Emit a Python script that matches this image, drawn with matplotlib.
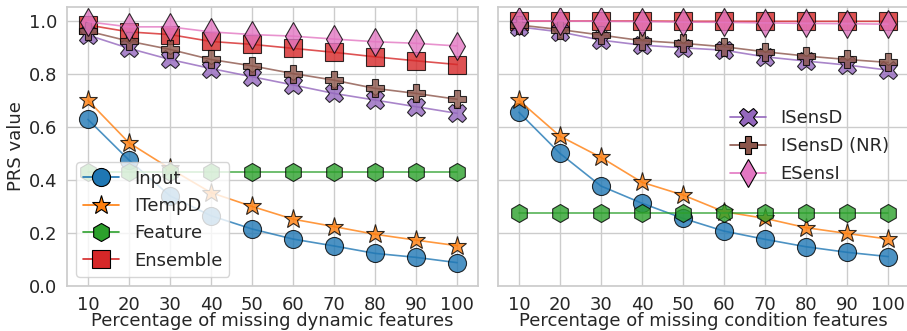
import matplotlib
matplotlib.use("Agg")
import matplotlib.pyplot as plt
import seaborn as sns

sns.set_theme(style="whitegrid")
plt.rcParams["font.family"] = ["DejaVu Sans"]
plt.rcParams["font.size"] = 13

pct = [10, 20, 30, 40, 50, 60, 70, 80, 90, 100]

# missing dynamic features (left panel)
dyn_input = [0.628, 0.475, 0.340, 0.265, 0.215, 0.177, 0.151, 0.123, 0.108, 0.088]
dyn_itempd = [0.700, 0.540, 0.443, 0.352, 0.300, 0.252, 0.224, 0.195, 0.173, 0.152]
dyn_feature = [0.431] * 10
dyn_ensemble = [0.984, 0.958, 0.948, 0.922, 0.911, 0.896, 0.881, 0.864, 0.849, 0.835]
dyn_isensd = [0.946, 0.896, 0.854, 0.820, 0.789, 0.758, 0.726, 0.701, 0.676, 0.651]
dyn_isensd_nr = [0.961, 0.923, 0.892, 0.854, 0.830, 0.801, 0.776, 0.745, 0.726, 0.704]
dyn_esensi = [0.996, 0.977, 0.977, 0.958, 0.948, 0.942, 0.931, 0.921, 0.915, 0.905]

# missing condition features (right panel)
cond_input = [0.655, 0.500, 0.377, 0.312, 0.255, 0.207, 0.176, 0.148, 0.127, 0.111]
cond_itempd = [0.700, 0.565, 0.485, 0.391, 0.343, 0.280, 0.255, 0.220, 0.198, 0.177]
cond_feature = [0.274] * 10
cond_ensemble = [0.999, 0.999, 0.999, 0.999, 0.998, 0.998, 0.998, 0.998, 0.998, 0.998]
cond_isensd = [0.977, 0.958, 0.927, 0.908, 0.898, 0.889, 0.864, 0.848, 0.833, 0.814]
cond_isensd_nr = [0.984, 0.967, 0.946, 0.925, 0.915, 0.902, 0.883, 0.867, 0.854, 0.843]
cond_esensi = [1.000, 0.999, 0.998, 0.997, 0.995, 0.994, 0.992, 0.990, 0.989, 0.987]

names = ["Input", "ITempD", "Feature", "Ensemble", "ISensD", "ISensD (NR)", "ESensI"]
markers = ["o", "*", "h", "s", "X", "P", "d"]
colors = ["tab:blue", "tab:orange", "tab:green", "tab:red",
          "tab:purple", "tab:brown", "tab:pink"]
sizes = [13, 14, 13, 13, 13, 13, 14]

dyn = [dyn_input, dyn_itempd, dyn_feature, dyn_ensemble,
       dyn_isensd, dyn_isensd_nr, dyn_esensi]
cond = [cond_input, cond_itempd, cond_feature, cond_ensemble,
        cond_isensd, cond_isensd_nr, cond_esensi]

fig = plt.figure(figsize=(9.07, 3.31), dpi=100)
ax1 = fig.add_axes([67 / 907, 1 - 286 / 331, 411 / 907, 279.3 / 331])
ax2 = fig.add_axes([498 / 907, 1 - 286 / 331, 411 / 907, 279.3 / 331], sharey=ax1)


def draw(ax, data):
    handles = []
    for vals, name, m, c, s in zip(data, names, markers, colors, sizes):
        h, = ax.plot(pct, vals, marker=m, color=c, label=name, markersize=s,
                     markeredgecolor="black", markeredgewidth=0.8,
                     linewidth=1.2, alpha=0.8)
        handles.append(h)
    ax.set_xticks(pct)
    ax.set_xlim(4.9, 105.1)
    ax.set_ylim(0, 1.053)
    ax.tick_params(labelsize=13, pad=1)
    return handles


h1 = draw(ax1, dyn)
h2 = draw(ax2, cond)

ax1.set_ylabel("PRS value", fontsize=13)
ax1.yaxis.set_label_coords(-0.102, 0.5)
ax1.set_yticks([0.0, 0.2, 0.4, 0.6, 0.8, 1.0])
ax1.set_xlabel("Percentage of missing dynamic features", fontsize=13, labelpad=-1)
ax2.set_xlabel("Percentage of missing condition features", fontsize=13, labelpad=-1)
plt.setp(ax2.get_yticklabels(), visible=False)
ax2.tick_params(axis="y", length=0)

leg1 = ax1.legend(handles=h1[:4], loc="lower left", fontsize=13,
                  borderaxespad=0.5, handletextpad=0.8, labelspacing=0.52)
leg2 = ax2.legend(handles=h2[4:], loc="center right", fontsize=13,
                  frameon=False, bbox_to_anchor=(0.99, 0.5),
                  handletextpad=0.8, labelspacing=0.55)
for lg in (leg1, leg2):
    for lh in lg.legend_handles:
        lh.set_alpha(1)

fig.savefig("out.png", dpi=100)
